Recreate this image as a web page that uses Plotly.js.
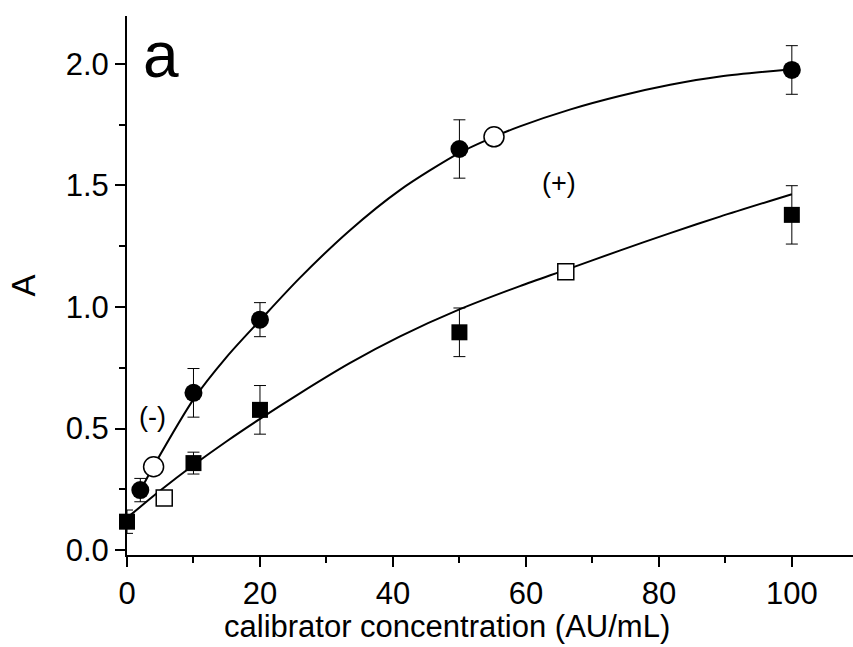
<!DOCTYPE html>
<html>
<head>
<meta charset="utf-8">
<script src="https://cdn.plot.ly/plotly-3.0.1.min.js"></script>
<style>
  html, body { margin: 0; padding: 0; background: #fff; }
  #chart { width: 853px; height: 647px; }
</style>
</head>
<body>
<div id="chart"></div>
<script>
// ---- data ----
const concFilledCircle = [2, 10, 20, 50, 100];
const absFilledCircle  = [0.247, 0.647, 0.948, 1.65, 1.975];
const errFilledCircle  = [0.048, 0.10, 0.07, 0.12, 0.10];

const concFilledSquare = [0, 10, 20, 50, 100];
const absFilledSquare  = [0.117, 0.358, 0.577, 0.896, 1.379];
const errFilledSquare  = [0.048, 0.045, 0.10, 0.10, 0.12];

const concOpenCircle = [4.0, 55.2];
const absOpenCircle  = [0.343, 1.70];

const concOpenSquare = [5.6, 66.0];
const absOpenSquare  = [0.214, 1.145];

// fitted curves, points
const concUpperCurve = [2, 4, 10, 15, 20, 26, 33.5, 41, 50, 55.2, 59.1, 66.6, 74.1, 81.7, 89.2, 100];
const absUpperCurve  = [0.245, 0.345, 0.62, 0.795, 0.945, 1.12, 1.315, 1.48, 1.634, 1.70, 1.743, 1.812, 1.868, 1.914, 1.948, 1.978];

const concLowerCurve = [0.5, 5, 10, 15, 20, 26, 33.5, 41, 50, 59.1, 66, 74.1, 81.7, 89.2, 100];
const absLowerCurve  = [0.144, 0.245, 0.35, 0.448, 0.54, 0.645, 0.769, 0.878, 0.99, 1.086, 1.153, 1.232, 1.304, 1.372, 1.464];

const xTickVals = [0, 20, 40, 60, 80, 100];
const yTickVals = [0.0, 0.5, 1.0, 1.5, 2.0];

const FONT = 'Arial, "Liberation Sans", sans-serif';

const traces = [
  {
    x: concUpperCurve, y: absUpperCurve, type: 'scatter', mode: 'lines',
    line: {color: '#000', width: 2, shape: 'spline', smoothing: 0.8}, hoverinfo: 'skip'
  },
  {
    x: concLowerCurve, y: absLowerCurve, type: 'scatter', mode: 'lines',
    line: {color: '#000', width: 2, shape: 'spline', smoothing: 0.8}, hoverinfo: 'skip'
  },
  {
    x: concFilledCircle, y: absFilledCircle, type: 'scatter', mode: 'markers',
    marker: {symbol: 'circle', size: 18, color: '#000'},
    error_y: {type: 'data', array: errFilledCircle, visible: true, color: '#000', thickness: 1, width: 6},
    cliponaxis: false
  },
  {
    x: concFilledSquare, y: absFilledSquare, type: 'scatter', mode: 'markers',
    marker: {symbol: 'square', size: 16, color: '#000'},
    error_y: {type: 'data', array: errFilledSquare, visible: true, color: '#000', thickness: 1, width: 6},
    cliponaxis: false
  },
  {
    x: concOpenCircle, y: absOpenCircle, type: 'scatter', mode: 'markers',
    marker: {symbol: 'circle', size: 20, color: '#fff', line: {color: '#000', width: 1.5}},
    cliponaxis: false
  },
  {
    x: concOpenSquare, y: absOpenSquare, type: 'scatter', mode: 'markers',
    marker: {symbol: 'square', size: 16, color: '#fff', line: {color: '#000', width: 1.5}},
    cliponaxis: false
  }
];

const layout = {
  width: 853, height: 647,
  margin: {l: 127, r: 0, t: 16, b: 92, pad: 0},
  paper_bgcolor: '#fff', plot_bgcolor: '#fff',
  showlegend: false,
  font: {family: FONT, color: '#000', size: 31},
  xaxis: {
    range: [0, 109.2],
    tickvals: xTickVals,
    ticks: 'outside', ticklen: 10, tickwidth: 2, tickcolor: '#000',
    minor: {dtick: 10, tick0: 0, ticks: 'outside', ticklen: 6, tickwidth: 2, tickcolor: '#000'},
    showline: true, linewidth: 2, linecolor: '#000',
    showgrid: false, zeroline: false,
    tickfont: {family: FONT, size: 31, color: '#000'}
  },
  yaxis: {
    range: [-0.02, 2.197],
    tickvals: yTickVals, tickformat: '.1f',
    ticks: 'outside', ticklen: 10, tickwidth: 2, tickcolor: '#000',
    minor: {dtick: 0.25, tick0: 0, ticks: 'outside', ticklen: 6, tickwidth: 2, tickcolor: '#000'},
    showline: true, linewidth: 2, linecolor: '#000',
    showgrid: false, zeroline: false,
    tickfont: {family: FONT, size: 31, color: '#000'},
    title: {text: 'A', font: {family: FONT, size: 33, color: '#000'}, standoff: 20}
  },
  annotations: [
    {text: 'calibrator concentration (AU/mL)', xref: 'paper', yref: 'paper',
     x: (447 - 127) / 726, y: (555 - 626) / 539, xanchor: 'center', yanchor: 'middle',
     showarrow: false, font: {family: FONT, size: 31, color: '#000'}},
    {text: 'a', xref: 'paper', yref: 'paper', x: (161 - 127) / 726, y: (555 - 55) / 539,
     xanchor: 'center', yanchor: 'middle', showarrow: false, font: {family: FONT, size: 64, color: '#000'}},
    {text: '(-)', xref: 'paper', yref: 'paper', x: (152 - 127) / 726, y: (555 - 417) / 539,
     xanchor: 'center', yanchor: 'middle', showarrow: false, font: {family: FONT, size: 27, color: '#000'}},
    {text: '(+)', xref: 'paper', yref: 'paper', x: (559 - 127) / 726, y: (555 - 183) / 539,
     xanchor: 'center', yanchor: 'middle', showarrow: false, font: {family: FONT, size: 27, color: '#000'}}
  ]
};

Plotly.newPlot('chart', traces, layout, {displayModeBar: false, staticPlot: true});
</script>
</body>
</html>
